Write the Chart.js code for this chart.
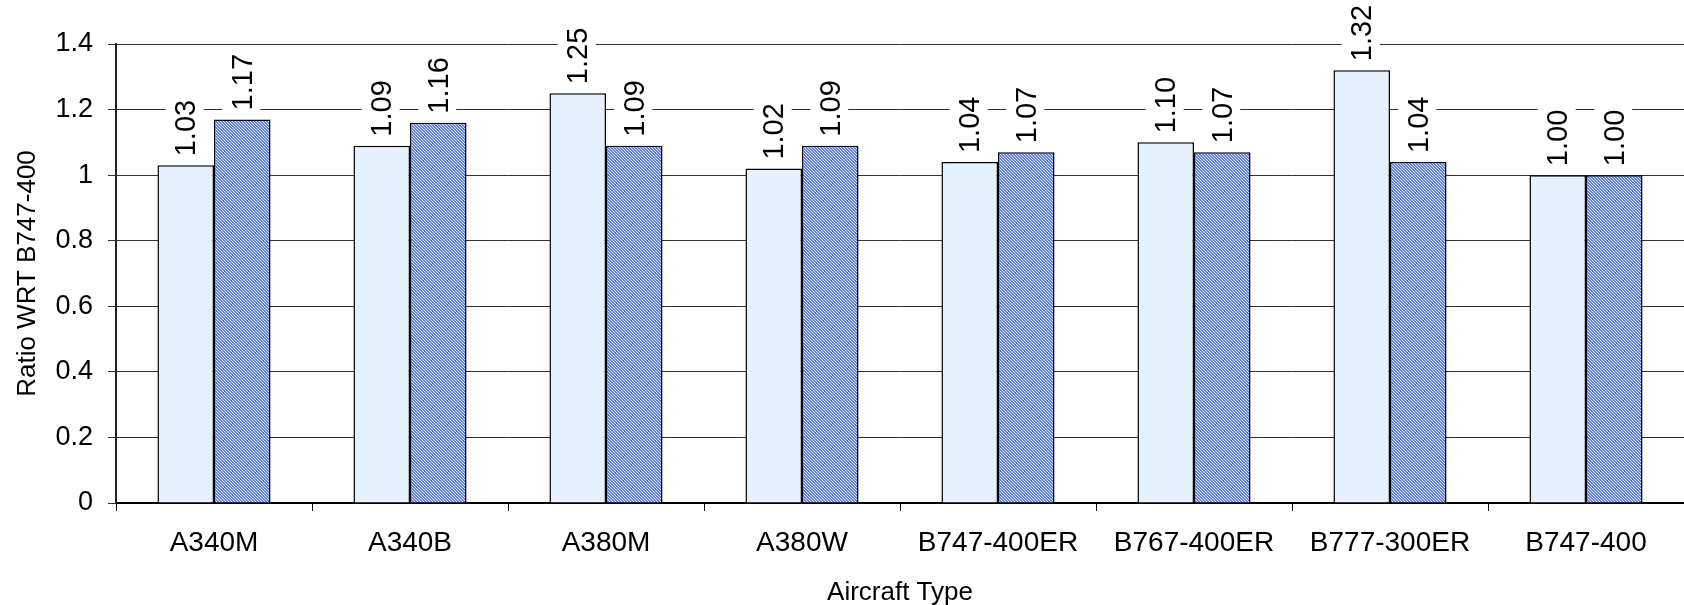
<!DOCTYPE html>
<html><head><meta charset="utf-8">
<script src="https://cdn.jsdelivr.net/npm/chart.js@4.4.0/dist/chart.umd.min.js"></script>
<style>html,body{margin:0;padding:0;background:#fff;overflow:hidden}</style>
</head><body>
<canvas id="c" width="1684" height="605" style="display:block;width:1684px;height:605px"></canvas>
<script>
const categories = ['A340M','A340B','A380M','A380W','B747-400ER','B767-400ER','B777-300ER','B747-400'];
const seriesA = [1.03,1.09,1.25,1.02,1.04,1.10,1.32,1.00];
const seriesB = [1.17,1.16,1.09,1.09,1.07,1.07,1.04,1.00];
const yTickLabels = ['0','0.2','0.4','0.6','0.8','1','1.2','1.4'];
const xTitle = 'Aircraft Type';
const yTitle = 'Ratio WRT B747-400';

const FAMILY = '"Liberation Sans", Arial, Helvetica, sans-serif';
const canvas = document.getElementById('c');
const ctx = canvas.getContext('2d');

function makePattern(bg, fg, size, fn){
  const c = document.createElement('canvas'); c.width = c.height = size;
  const x = c.getContext('2d');
  x.fillStyle = bg; x.fillRect(0,0,size,size);
  x.fillStyle = fg;
  for (let i=0;i<size;i++) for (let j=0;j<size;j++) if (fn(i,j)) x.fillRect(i,j,1,1);
  return ctx.createPattern(c,'repeat');
}
const lightPattern = makePattern('#e1eeff', '#f3f8ff', 4, (i,j)=>((i+j)%4)===0);
const darkPattern = makePattern('#5d7ef2', '#e8eeff', 3, (i,j)=>((i-j+3)%3)===0);

const labelPlugin = {
  id: 'barLabels',
  afterDatasetsDraw(chart){
    const c = chart.ctx;
    const size = 29;
    c.save();
    c.font = size + 'px ' + FAMILY;
    const cap = size * 0.716;
    chart.data.datasets.forEach((ds, di) => {
      const meta = chart.getDatasetMeta(di);
      meta.data.forEach((bar, i) => {
        const txt = Number(ds.data[i]).toFixed(2);
        const w = c.measureText(txt).width;
        const x = bar.x - 1;
        const y = bar.y - 9;
        c.fillStyle = '#fff';
        c.fillRect(x - 19, y - w - 4, 38, w + 6);
        c.save();
        c.translate(x + cap/2, y);
        c.rotate(-Math.PI/2);
        c.fillStyle = '#000';
        c.textAlign = 'left';
        c.textBaseline = 'alphabetic';
        c.fillText(txt, 0, 0);
        c.restore();
      });
    });
    c.restore();
  }
};

new Chart(ctx, {
  type: 'bar',
  data: {
    labels: categories,
    datasets: [
      { data: seriesA, backgroundColor: lightPattern, borderColor: '#000', borderWidth: 1.5,
        categoryPercentage: 0.577, barPercentage: 1.0 },
      { data: seriesB, backgroundColor: darkPattern, borderColor: '#000', borderWidth: 1.5,
        categoryPercentage: 0.577, barPercentage: 1.0 }
    ]
  },
  options: {
    responsive: false,
    animation: false,
    devicePixelRatio: 1,
    layout: { padding: { top: 44, right: 0, left: 0, bottom: 0 } },
    plugins: { legend: { display: false }, tooltip: { enabled: false } },
    scales: {
      x: {
        grid: { display: true, drawOnChartArea: false, drawTicks: true, tickLength: 8, color: '#000', lineWidth: 1, offset: true },
        border: { display: true, color: '#000', width: 2 },
        ticks: { color: '#000', font: { size: 28, family: FAMILY }, padding: 15, maxRotation: 0, autoSkip: false },
        title: { display: true, text: xTitle, color: '#000', font: { size: 26, family: FAMILY, lineHeight: 1 }, padding: { top: 0, bottom: -1 } },
        afterFit(s){ s.height = 102; }
      },
      y: {
        min: 0, max: 1.4,
        ticks: { stepSize: 0.2, color: '#000', font: { size: 27, family: FAMILY }, padding: 15,
          callback: (v, i) => yTickLabels[i] },
        grid: { color: '#333', lineWidth: 1, tickLength: 8 },
        border: { display: true, color: '#222', width: 2 },
        title: { display: true, text: yTitle, color: '#000', font: { size: 26, family: FAMILY, lineHeight: 1.2 }, padding: { top: 12, bottom: 0 } },
        afterFit(s){ s.width = 116; }
      }
    }
  },
  plugins: [labelPlugin]
});
</script>
</body></html>
